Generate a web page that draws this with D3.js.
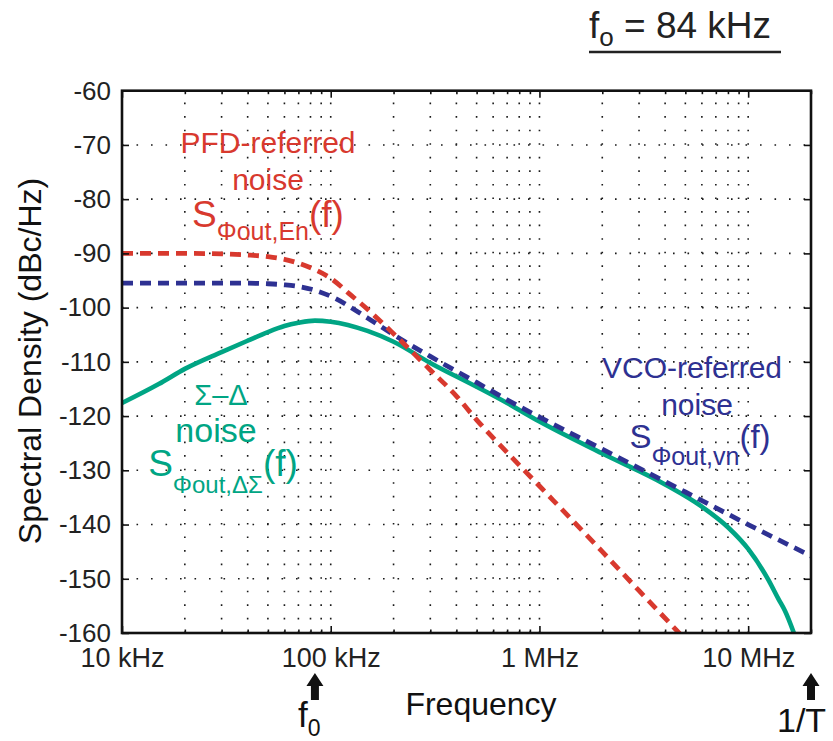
<!DOCTYPE html>
<html>
<head>
<meta charset="utf-8">
<script src="https://cdn.jsdelivr.net/npm/d3@7"></script>
<style>
body { margin: 0; background: #fff; }
svg { display: block; font-family: "Liberation Sans", Arial, Helvetica, sans-serif; }
.tick text { font-size: 26px; fill: #222; }
.xticks .tick text { font-size: 27px; }
.tick line { stroke: #111; stroke-width: 1.6; }
.grid { stroke: #1a1a1a; stroke-width: 1.6; }
</style>
</head>
<body>
<div class="chart"></div>
<script>
const WIDTH = 833;
const HEIGHT = 741;
const LEFT = 122, RIGHT = 811, TOP = 90.7, BOTTOM = 633;

// axis data
var freqTicks = [1e4, 1e5, 1e6, 1e7];
var freqTickLabels = ["10 kHz", "100 kHz", "1 MHz", "10 MHz"];
var dbTicks = [-60, -70, -80, -90, -100, -110, -120, -130, -140, -150, -160];

// PFD-referred noise (red dashed)
var pfdFreq  = [1e4, 2e4, 3e4, 4e4, 5e4, 6e4, 7e4, 8.4e4, 1e5, 1.25e5, 1.5e5, 2e5, 3e5, 4e5, 5e5, 7e5, 1e6, 2e6, 3e6, 5e6];
var pfdNoise = [-90.0, -90.0, -90.1, -90.3, -90.6, -91.1, -91.8, -93.0, -94.6, -97.7, -100.3, -104.8, -111.5, -116.3, -120.7, -126.7, -132.9, -145.0, -152.2, -161.2];

// VCO-referred noise (blue dashed)
var vcoFreq  = [1e4, 2e4, 3e4, 4e4, 5e4, 6e4, 7e4, 8.4e4, 1e5, 1.5e5, 2e5, 3e5, 5e5, 7e5, 1e6, 2e6, 5e6, 1e7, 2e7];
var vcoNoise = [-95.5, -95.5, -95.5, -95.5, -95.6, -95.8, -96.1, -96.8, -97.9, -101.9, -105.0, -109.0, -113.8, -117.0, -120.2, -126.1, -134.0, -140.0, -145.8];

// Sigma-Delta noise (green solid)
var sdFreq  = [1e4, 1.5e4, 2e4, 3e4, 4e4, 5e4, 6e4, 7e4, 8.4e4, 1e5, 1.5e5, 2e5, 3e5, 5e5, 7e5, 1e6, 2e6, 4e6, 6e6, 8e6, 1e7, 1.25e7, 1.4e7, 1.5e7, 1.7e7];
var sdNoise = [-117.6, -114.1, -111.3, -108.2, -106.1, -104.5, -103.4, -102.8, -102.4, -102.6, -104.3, -106.3, -110.2, -114.6, -117.6, -121.0, -126.9, -132.6, -136.7, -140.5, -144.5, -150.2, -153.8, -155.9, -161.2];

var F0 = 84e3;        // loop bandwidth marker
var REF_FREQ = 2e7;   // 1/T marker

var RED = "#d8392e", BLUE = "#2e3192", GREEN = "#00a584";

var _xScale, _yScale;

var translate = function(x, y){
	return "translate(" + x + "," + y + ")";
};

var createChart = function(divClass){
	var svg = d3.select(divClass).append("svg")
		.attr("width", WIDTH)
		.attr("height", HEIGHT);

	_xScale = d3.scaleLog()
		.domain([1e4, REF_FREQ])
		.range([LEFT, RIGHT]);

	_yScale = d3.scaleLinear()
		.domain([-60, -160])
		.range([TOP, BOTTOM]);

	svg.append("defs").append("clipPath")
		.attr("id", "clip")
		.append("rect")
		.attr("x", LEFT).attr("y", TOP)
		.attr("width", RIGHT - LEFT).attr("height", BOTTOM - TOP);

	return svg;
};

var drawGrid = function(svg){
	var minor = _xScale.ticks().filter(function(d){ return d > 1e4 && d < REF_FREQ; });
	var g = svg.append("g").attr("class", "grid");

	g.selectAll(".vgrid").data(minor).enter()
		.append("line")
		.attr("x1", function(d){ return _xScale(d); })
		.attr("x2", function(d){ return _xScale(d); })
		.attr("y1", BOTTOM).attr("y2", TOP)
		.attr("stroke-dasharray", "1.6,11.96");

	g.selectAll(".hgrid").data(dbTicks.slice(1, -1)).enter()
		.append("line")
		.attr("x1", LEFT).attr("x2", RIGHT)
		.attr("y1", function(d){ return _yScale(d); })
		.attr("y2", function(d){ return _yScale(d); })
		.attr("stroke-dasharray", "1.6,12.9");
};

var drawAxes = function(svg){
	var minor = _xScale.ticks().filter(function(d){ return freqTicks.indexOf(d) < 0; });

	svg.append("g").attr("class", "xticks").attr("transform", translate(0, BOTTOM))
		.call(d3.axisBottom(_xScale).tickValues(freqTicks)
			.tickFormat(function(d, i){ return freqTickLabels[i]; })
			.tickSize(-7).tickPadding(15));
	svg.append("g").attr("transform", translate(0, BOTTOM))
		.call(d3.axisBottom(_xScale).tickValues(minor).tickFormat("").tickSize(-3.5));

	svg.append("g").attr("transform", translate(0, TOP))
		.call(d3.axisTop(_xScale).tickValues(freqTicks).tickFormat("").tickSize(-7));
	svg.append("g").attr("transform", translate(0, TOP))
		.call(d3.axisTop(_xScale).tickValues(minor).tickFormat("").tickSize(-3.5));

	svg.append("g").attr("transform", translate(LEFT, 0))
		.call(d3.axisLeft(_yScale).tickValues(dbTicks)
			.tickFormat(function(d){ return String(d); })
			.tickSize(-7).tickPadding(11));
	svg.append("g").attr("transform", translate(RIGHT, 0))
		.call(d3.axisRight(_yScale).tickValues(dbTicks).tickFormat("").tickSize(-7));

	svg.selectAll(".domain").remove();
	svg.selectAll("g").attr("font-family", null).attr("font-size", null);

	svg.append("rect")
		.attr("x", LEFT).attr("y", TOP)
		.attr("width", RIGHT - LEFT).attr("height", BOTTOM - TOP)
		.attr("fill", "none").attr("stroke", "#111").attr("stroke-width", 2.6);

	svg.append("text")
		.attr("x", 481).attr("y", 715)
		.attr("text-anchor", "middle")
		.attr("font-size", 32).attr("fill", "#111")
		.text("Frequency");

	svg.append("text")
		.attr("transform", translate(41, 361) + " rotate(-90)")
		.attr("text-anchor", "middle")
		.attr("font-size", 32).attr("fill", "#111")
		.text("Spectral Density (dBc/Hz)");
};

var drawCurves = function(svg){
	var line = d3.line()
		.x(function(d){ return _xScale(d[0]); })
		.y(function(d){ return _yScale(d[1]); })
		.curve(d3.curveMonotoneX);

	var g = svg.append("g").attr("clip-path", "url(#clip)");

	g.append("path")
		.attr("d", line(d3.zip(sdFreq, sdNoise)))
		.attr("fill", "none").attr("stroke", GREEN).attr("stroke-width", 4.6);

	g.append("path")
		.attr("d", line(d3.zip(vcoFreq, vcoNoise)))
		.attr("fill", "none").attr("stroke", BLUE).attr("stroke-width", 4.8)
		.attr("stroke-dasharray", "11,7");

	g.append("path")
		.attr("d", line(d3.zip(pfdFreq, pfdNoise)))
		.attr("fill", "none").attr("stroke", RED).attr("stroke-width", 4.8)
		.attr("stroke-dasharray", "11,7");
};

var addNoiseLabel = function(svg, x, y, color, big, small, sub, drop){
	var t = svg.append("text")
		.attr("x", x).attr("y", y)
		.attr("text-anchor", "middle")
		.attr("fill", color);
	t.append("tspan").attr("font-size", big).text("S");
	t.append("tspan").attr("font-size", small).attr("dy", drop).text(sub);
	t.append("tspan").attr("font-size", big).attr("dy", -drop).text("(f)");
};

var drawLabels = function(svg){
	var simple = function(x, y, size, color, txt){
		svg.append("text")
			.attr("x", x).attr("y", y)
			.attr("text-anchor", "middle")
			.attr("font-size", size).attr("fill", color)
			.text(txt);
	};

	simple(268, 153, 30, RED, "PFD-referred");
	simple(268, 190, 30, RED, "noise");
	addNoiseLabel(svg, 268, 227, RED, 37, 25, "\u03A6out,En", 13);

	simple(692, 378, 30, BLUE, "VCO-referred");
	simple(697, 415, 30, BLUE, "noise");
	addNoiseLabel(svg, 700, 448, BLUE, 33, 25, "\u03A6out,vn", 17);

	simple(221, 405, 29, GREEN, "\u03A3\u2013\u0394");
	simple(216, 442, 34, GREEN, "noise");
	addNoiseLabel(svg, 223, 476, GREEN, 37, 24, "\u03A6out,\u0394\u03A3", 17);

	// title with underline
	var title = svg.append("text")
		.attr("x", 589).attr("y", 38)
		.attr("font-size", 37).attr("fill", "#222");
	title.append("tspan").text("f");
	title.append("tspan").attr("font-size", 26).attr("dy", 8).text("o");
	title.append("tspan").attr("dy", -8).text(" = 84 kHz");
	svg.append("line")
		.attr("x1", 589).attr("x2", 781)
		.attr("y1", 52).attr("y2", 52)
		.attr("stroke", "#222").attr("stroke-width", 2.6);
};

var drawMarkers = function(svg){
	var arrow = function(x){
		svg.append("path")
			.attr("d", "M" + x + ",673 L" + (x + 8.5) + ",686 L" + (x + 4) + ",686 L" + (x + 4) + ",700 L" + (x - 4) + ",700 L" + (x - 4) + ",686 L" + (x - 8.5) + ",686 Z")
			.attr("fill", "#111");
	};
	var x0 = _xScale(F0), x1 = _xScale(REF_FREQ);
	arrow(x0);
	arrow(x1);

	var f0 = svg.append("text")
		.attr("x", x0 - 17).attr("y", 727)
		.attr("font-size", 35).attr("fill", "#111");
	f0.append("tspan").text("f");
	f0.append("tspan").attr("font-size", 23).attr("dy", 9).text("0");

	svg.append("text")
		.attr("x", x1 - 34).attr("y", 732)
		.attr("font-size", 34).attr("fill", "#111")
		.text("1/T");
};

window.onload = function(){
	var svg = createChart(".chart");
	drawGrid(svg);
	drawCurves(svg);
	drawAxes(svg);
	drawLabels(svg);
	drawMarkers(svg);
};
</script>
</body>
</html>
